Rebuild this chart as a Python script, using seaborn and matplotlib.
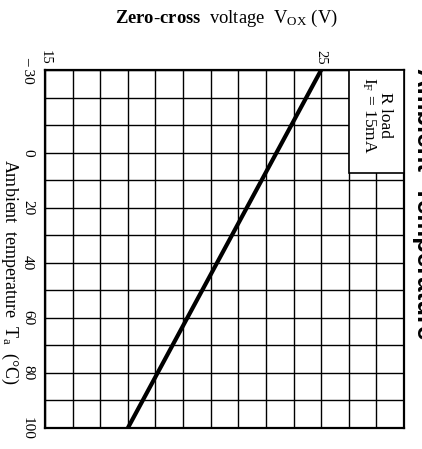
import matplotlib
matplotlib.use("Agg")
import matplotlib.pyplot as plt
import seaborn as sns
import pandas as pd
from matplotlib.patches import Rectangle

# ---- data ----
temperature = [-30, 100]          # ambient temperature Ta (°C)
zero_cross_v = [25, 18]           # zero-cross voltage Vox (V)
temp_ticks = [-30, -20, -10, 0, 10, 20, 30, 40, 50, 60, 70, 80, 90, 100]
temp_labels = ["– 30", "", "", "0", "", "20", "", "40", "", "60", "", "80", "", "100"]
volt_ticks = list(range(15, 29))
volt_labels = ["15", "", "", "", "", "", "", "", "", "", "25", "", "", ""]

sns.set_theme(style="white")
plt.rcParams["font.family"] = ["Liberation Serif", "DejaVu Serif"]
plt.rcParams["mathtext.fontset"] = "custom"
plt.rcParams["mathtext.rm"] = "Liberation Serif"
plt.rcParams["mathtext.it"] = "Liberation Serif:italic"
plt.rcParams["mathtext.bf"] = "Liberation Serif:bold"

W, H = 422, 449
fig = plt.figure(figsize=(W / 100, H / 100), dpi=100)
fig.patch.set_facecolor("white")
ax = fig.add_axes([45 / W, 1 - 428 / H, (404 - 45) / W, (428 - 70) / H])
ax.set_facecolor("white")

df = pd.DataFrame({"V": zero_cross_v, "T": temperature})
sns.lineplot(data=df, x="V", y="T", sort=False, color="black", lw=3, ax=ax, zorder=5)

ax.set_xlim(15, 28)
ax.set_ylim(100, -30)
ax.xaxis.tick_top()
ax.set_xticks(volt_ticks)
ax.set_xticklabels(volt_labels, rotation=-90, fontsize=10.5)
ax.set_yticks(temp_ticks)
ax.set_yticklabels(temp_labels, rotation=-90, fontsize=11, va="center")
ax.tick_params(axis="x", length=0, pad=4, labelcolor="black")
ax.tick_params(axis="y", length=0, pad=8, labelcolor="black")
ax.set_xlabel("")
ax.set_ylabel("")
ax.grid(True, color="black", lw=1.0)
ax.set_axisbelow(True)
for s in ax.spines.values():
    s.set_color("black")
    s.set_linewidth(1.6)

# legend box
ax.add_patch(Rectangle((26, -30), 2, 37.5, facecolor="white", edgecolor="black",
                       lw=1.2, zorder=3))
ax.text(27.0, -27.5, "R load\nI$_{\\rm F}$ = 15mA", rotation=-90, ha="center", va="top",
        fontsize=12.5, linespacing=0.95, zorder=6, color="black")

# titles / labels
fig.text(226 / W, 1 - 18 / H,
         r"$\mathbf{Zero\text{-}cross}$  voltage  V$_{\rm OX}$ (V)",
         ha="center", va="center", fontsize=13.4, color="black")
fig.text(10 / W, 1 - 272 / H, "Ambient  temperature  T$_{\\rm a}$  (°C)",
         rotation=-90, ha="center", va="center", fontsize=13, color="black")
fig.text(412 / W, 1 - 68 / H, "Ambient  Temperature", rotation=-90,
         ha="left", va="top", fontsize=18.5, fontweight="bold",
         family=["Liberation Sans", "DejaVu Sans"], color="black")

fig.savefig("out.png", dpi=100, facecolor="white")
